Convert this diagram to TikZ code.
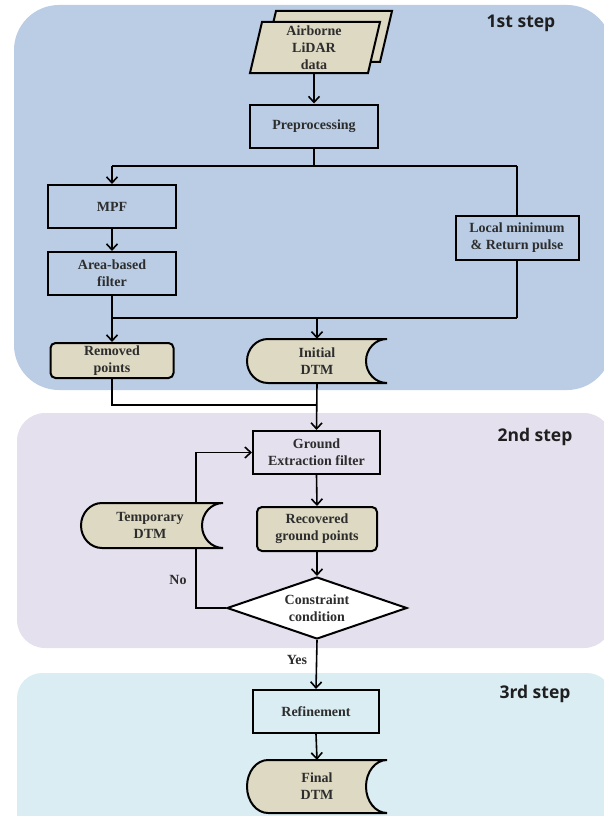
\documentclass[tikz,border=0pt]{standalone}
\usepackage{fontspec}
\setmainfont{Liberation Serif}
\newfontfamily\stepfont{Open Sans}
\usetikzlibrary{shapes.geometric,arrows.meta,calc}
\definecolor{panelA}{RGB}{186,205,229}
\definecolor{panelB}{RGB}{229,224,237}
\definecolor{panelC}{RGB}{218,237,243}
\definecolor{beige}{RGB}{221,217,195}
\definecolor{txt}{RGB}{45,45,45}
\newcommand\storeshape[4]{%
  \draw[storestyle] ({#1+#3/2},{#2-#4/2}) -- ({#1-#3/2+21},{#2-#4/2})
    arc[start angle=270,end angle=90,x radius=21,y radius=#4/2]
    -- ({#1+#3/2},{#2+#4/2})
    arc[start angle=90,end angle=270,x radius=21,y radius=#4/2] -- cycle;}
\tikzset{
  storestyle/.style={draw=black,line width=2pt,fill=beige},
  nodetext/.style={align=center,text=txt,font=\fontsize{14}{17}\selectfont\bfseries,inner sep=0pt},
  boxA/.style={nodetext,draw=black,line width=2pt,fill=panelA,minimum width=128pt,minimum height=43pt},
  boxB/.style={boxA,fill=panelB},
  boxC/.style={boxA,fill=panelC},
  beigebox/.style={nodetext,draw=black,line width=2pt,fill=beige,rounded corners=5pt},
  plain/.style={nodetext},
  conn/.style={line width=1.6pt},
  arr/.style={line width=1.6pt,-{Straight Barb[length=6pt,width=11pt,line width=1.6pt]}},
  steplabel/.style={font=\stepfont\fontsize{17.5}{19}\selectfont\bfseries,text=black!88}
}
\begin{document}
\begin{tikzpicture}[x=1pt,y=-1pt]
\useasboundingbox (0,0) rectangle (604,816);
\clip (0,0) rectangle (604,816);
% panels
\fill[panelA,rounded corners=45pt] (14,5) rectangle (612,390);
\fill[panelB,rounded corners=28pt] (17,413) rectangle (612,648);
\fill[panelC,rounded corners=25pt] (17,673) rectangle (612,840);
\node[steplabel] (s1) at (521,23) {1st step};
\node[steplabel] (s2) at (535,437) {2nd step};
\node[steplabel] (s3) at (535,694) {3rd step};

% data (multi-document parallelogram)
\draw[storestyle] (276,11) -- (392,11) -- (380,62) -- (264,62) -- cycle;
\draw[storestyle] (262,22) -- (380,22) -- (368,73) -- (250,73) -- cycle;
\node[plain,minimum width=118pt,minimum height=51pt] (data) at (314,47.5) {Airborne\\LiDAR\\data};

\node[boxA] (pre) at (314,126) {Preprocessing};
\node[boxA] (mpf) at (112,206.5) {MPF};
\node[boxA] (area) at (112,273.5) {Area-based\\filter};
\node[boxA,minimum width=123pt,minimum height=44pt] (local) at (517,238) {Local minimum\\\& Return pulse};
\node[beigebox,minimum width=123pt,minimum height=35pt] (removed) at (112,360.5) {Removed\\points};
\storeshape{317}{361}{140}{44}
\node[plain,minimum width=140pt,minimum height=44pt] (idtm) at (317,361) {Initial\\DTM};

\coordinate (j1) at (314,166);
\coordinate (j2) at (314,318);
\coordinate (j3) at (317,405);
\draw[conn] (pre.south) -- (j1);
\draw[conn] (mpf.north |- j1) -- (local.north |- j1);
\draw[arr] (mpf.north |- j1) -- (mpf.north);
\draw[conn] (local.north |- j1) -- (local.north);
\draw[arr] (mpf.south) -- (area.north);
\draw[conn] (area.south) -- (area.south |- j2);
\draw[conn] (local.south) -- (local.south |- j2);
\draw[conn] (area.south |- j2) -- (local.south |- j2);
\draw[arr] (removed.north |- j2) -- (removed.north);
\draw[arr] (idtm.north |- j2) -- (idtm.north);
\draw[arr] (data.south) -- (pre.north);

% step 2
\node[boxB,minimum width=127pt] (gef) at (316.5,452.5) {Ground\\Extraction filter};
\draw[conn] (removed.south) -- (removed.south |- j3) -- (j3);
\draw[arr] (idtm.south) -- (gef.north);
\node[beigebox,minimum width=120pt,minimum height=44pt] (rgp) at (317,529) {Recovered\\ground points};
\node[diamond,draw=black,line width=2pt,fill=white,nodetext,minimum width=180pt,minimum height=62pt,aspect=2.9] (cc) at (317,608) {Constraint\\condition};
\coordinate (lp) at (196,452);
\draw[arr] (cc.west) -- (cc.west -| lp) -- (lp |- gef.west) -- (gef.west);
\storeshape{152}{525.5}{142}{45}
\node[plain,minimum width=142pt,minimum height=45pt] (tdtm) at (150,525.5) {Temporary\\DTM};
\draw[arr] (gef.south) -- (rgp.north);
\draw[arr] (rgp.south) -- (cc.north);
\node[plain] (no) at (178,580) {No};

% step 3
\node[boxC,minimum width=126pt] (ref) at (316,711.5) {Refinement};
\draw[arr] (cc.south) -- (ref.north);
\node[plain] (yes) at (297,660) {Yes};
\storeshape{317}{786.5}{140}{53}
\node[plain,minimum width=140pt,minimum height=53pt] (fdtm) at (317,786.5) {Final\\DTM};
\draw[arr] (ref.south) -- (fdtm.north);
\end{tikzpicture}
\end{document}
